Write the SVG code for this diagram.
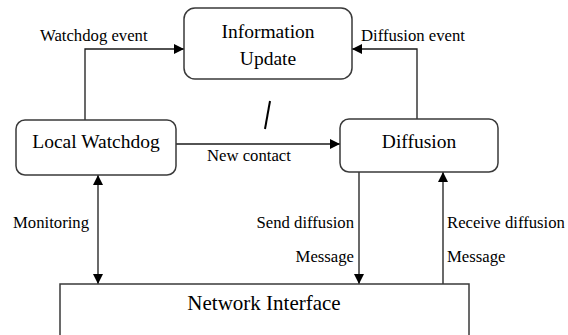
<svg xmlns="http://www.w3.org/2000/svg" width="568" height="335" viewBox="0 0 568 335">
<defs>
<marker id="ah" viewBox="0 0 10 10" refX="10" refY="5" markerWidth="10" markerHeight="10" markerUnits="userSpaceOnUse" orient="auto-start-reverse">
<path d="M0,0 L10,5 L0,10 Z" fill="#000"/>
</marker>
</defs>
<rect width="568" height="335" fill="#fff"/>
<g id="connectors" fill="none" stroke="#1a1a1a" stroke-width="1.3">
<polyline points="85,120 85,49 184,49" marker-end="url(#ah)"/>
<polyline points="417,119 417,49 352,49" marker-end="url(#ah)"/>
<line x1="176" y1="144" x2="340" y2="144" marker-end="url(#ah)"/>
<line x1="98" y1="175" x2="98" y2="284" marker-start="url(#ah)" marker-end="url(#ah)"/>
<line x1="359" y1="172" x2="359" y2="284" marker-end="url(#ah)"/>
<line x1="443" y1="284" x2="443" y2="172" marker-end="url(#ah)"/>
<line x1="270" y1="101" x2="265" y2="129" stroke="#000" stroke-width="2"/>
</g>
<g id="labels" fill="#000" stroke="none" font-family="Liberation Serif, Times New Roman, serif" font-size="16.7">
<text x="40" y="41">Watchdog event</text>
<text x="361" y="41">Diffusion event</text>
<text x="207" y="161">New contact</text>
<text x="13" y="228">Monitoring</text>
<text x="354" y="228" text-anchor="end">Send diffusion</text>
<text x="354" y="262" text-anchor="end">Message</text>
<text x="447" y="228">Receive diffusion</text>
<text x="447" y="262">Message</text>
</g>
<g id="info-update" font-family="Liberation Serif, Times New Roman, serif" font-size="19.5" fill="#000">
<rect x="184" y="8" width="168" height="71" rx="11" fill="#fff" stroke="#3a3a3a" stroke-width="1.5"/>
<text x="268" y="38" text-anchor="middle">Information</text>
<text x="268" y="65" text-anchor="middle">Update</text>
</g>
<g id="local-watchdog" font-family="Liberation Serif, Times New Roman, serif" font-size="19.5" fill="#000">
<rect x="16" y="120" width="160" height="55" rx="9" fill="#fff" stroke="#3a3a3a" stroke-width="1.5"/>
<text x="96" y="148" text-anchor="middle">Local Watchdog</text>
</g>
<g id="diffusion" font-family="Liberation Serif, Times New Roman, serif" font-size="19.5" fill="#000">
<rect x="340" y="119" width="158" height="53" rx="9" fill="#fff" stroke="#3a3a3a" stroke-width="1.5"/>
<text x="419" y="148" text-anchor="middle">Diffusion</text>
</g>
<g id="network-interface" font-family="Liberation Serif, Times New Roman, serif" font-size="21" fill="#000">
<rect x="60" y="284" width="409" height="60" fill="#fff" stroke="#3a3a3a" stroke-width="1.5"/>
<text x="264" y="310" text-anchor="middle">Network Interface</text>
</g>
</svg>
